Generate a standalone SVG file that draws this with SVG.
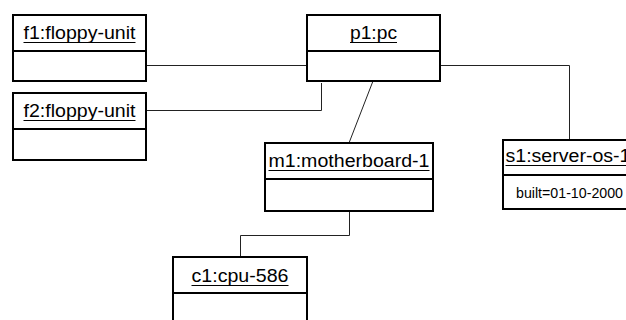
<svg xmlns="http://www.w3.org/2000/svg" width="626" height="320" viewBox="0 0 626 320">
  <style>
    .box { fill: #ffffff; stroke: #000000; stroke-width: 2; }
    .div { stroke: #000000; stroke-width: 2; }
    .link { fill: none; stroke: #222222; stroke-width: 1; }
    .name { font-family: "Liberation Sans", Arial, sans-serif; font-size: 18px; fill: #000000; text-anchor: middle; }
    .uline { stroke: #000000; stroke-width: 1; }
    .attr { font-family: "Liberation Sans", Arial, sans-serif; font-size: 14.5px; fill: #000000; }
  </style>
  <rect width="626" height="320" fill="#ffffff"/>

  <!-- associations between objects -->
  <g id="connectors">
    <path class="link" d="M146,65.5 H307"/>
    <path class="link" d="M146,110.5 H321.5 V83"/>
    <path class="link" d="M373,81 L349,143"/>
    <path class="link" d="M440,65.5 H569.5 V140"/>
    <path class="link" d="M349.5,211 V235.5 H240.5 V257"/>
  </g>

  <g id="f1">
    <rect class="box" x="13" y="15" width="133" height="66"/>
    <line class="div" x1="13" y1="51" x2="146" y2="51"/>
    <text class="name" x="79.5" y="39" textLength="112" lengthAdjust="spacingAndGlyphs">f1:floppy-unit</text>
    <line class="uline" x1="23.5" y1="42.5" x2="135.5" y2="42.5"/>
  </g>

  <g id="f2">
    <rect class="box" x="13" y="93" width="133" height="67"/>
    <line class="div" x1="13" y1="129" x2="146" y2="129"/>
    <text class="name" x="79.5" y="117" textLength="112" lengthAdjust="spacingAndGlyphs">f2:floppy-unit</text>
    <line class="uline" x1="23.5" y1="120.5" x2="135.5" y2="120.5"/>
  </g>

  <g id="p1">
    <rect class="box" x="307" y="15" width="133" height="66"/>
    <line class="div" x1="307" y1="51" x2="440" y2="51"/>
    <text class="name" x="373.5" y="39" textLength="47" lengthAdjust="spacingAndGlyphs">p1:pc</text>
    <line class="uline" x1="350" y1="42.5" x2="397" y2="42.5"/>
  </g>

  <g id="m1">
    <rect class="box" x="265" y="143" width="168" height="68"/>
    <line class="div" x1="265" y1="179" x2="433" y2="179"/>
    <text class="name" x="349" y="167" textLength="161" lengthAdjust="spacingAndGlyphs">m1:motherboard-1</text>
    <line class="uline" x1="268.5" y1="170.5" x2="429.5" y2="170.5"/>
  </g>

  <g id="s1">
    <rect class="box" x="503" y="140" width="135" height="69"/>
    <line class="div" x1="503" y1="175" x2="638" y2="175"/>
    <text class="name" x="568" y="162" textLength="125" lengthAdjust="spacingAndGlyphs">s1:server-os-1</text>
    <line class="uline" x1="505.5" y1="165.5" x2="630.5" y2="165.5"/>
    <text class="attr" x="516" y="198" textLength="107" lengthAdjust="spacingAndGlyphs">built=01-10-2000</text>
  </g>

  <g id="c1">
    <rect class="box" x="173" y="257" width="134" height="70"/>
    <line class="div" x1="173" y1="293" x2="307" y2="293"/>
    <text class="name" x="240" y="282" textLength="97" lengthAdjust="spacingAndGlyphs">c1:cpu-586</text>
    <line class="uline" x1="191.5" y1="285.5" x2="288.5" y2="285.5"/>
  </g>
</svg>
